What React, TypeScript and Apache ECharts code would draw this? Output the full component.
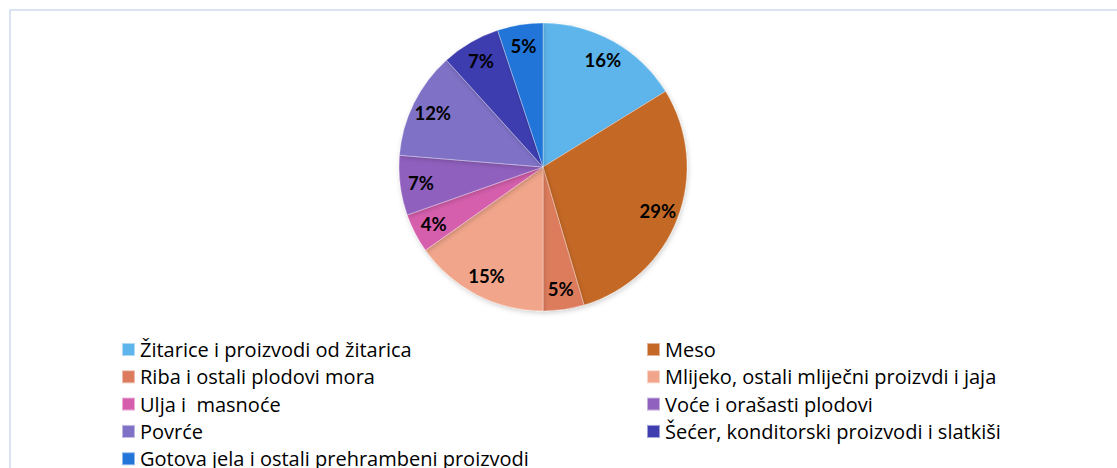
import React, { useEffect, useRef } from "react";
import * as echarts from "echarts";

const categories = [
  "Žitarice i proizvodi od žitarica",
  "Meso",
  "Riba i ostali plodovi mora",
  "Mlijeko, ostali mliječni proizvdi i jaja",
  "Ulja i  masnoće",
  "Voće i orašasti plodovi",
  "Povrće",
  "Šećer, konditorski proizvodi i slatkiši",
  "Gotova jela i ostali prehrambeni proizvodi",
];
const values = [16.2, 29.2, 4.6, 15.2, 4.4, 6.7, 12.0, 6.6, 5.1];
const colors = [
  "#5DB5EC",
  "#C46826",
  "#DC7B5D",
  "#F1A68B",
  "#D65FAD",
  "#9061BE",
  "#7F71C6",
  "#3E3EB0",
  "#2275D8",
];
const leftLegend = [categories[0], categories[2], categories[4], categories[6], categories[8]];
const rightLegend = [categories[1], categories[3], categories[5], categories[7]];

export default function App() {
  const ref = useRef<HTMLDivElement>(null);
  useEffect(() => {
    const chart = echarts.init(ref.current!, null, { renderer: "svg" });
    const data = categories.map((name, i) => ({
      name,
      value: values[i],
      itemStyle: { color: colors[i] },
    }));
    const legendCommon = {
      orient: "vertical" as const,
      itemWidth: 13,
      itemHeight: 13,
      itemGap: 7.3,
      padding: 0,
      height: 300,
      icon: "rect",
      selectedMode: false,
      textStyle: {
        fontFamily: "Open Sans",
        fontSize: 20,
        color: "#000",
        lineHeight: 20,
      },
    };
    chart.setOption({
      animation: false,
      backgroundColor: "#fff",
      graphic: [
        {
          type: "rect",
          z: -10,
          shape: { x: 10, y: 10, width: 1200, height: 600 },
          style: { fill: "none", stroke: "#DAE3F3", lineWidth: 2 },
        },
      ],
      legend: [
        { ...legendCommon, left: 121, top: 339.5, data: leftLegend },
        { ...legendCommon, left: 646, top: 339.5, data: rightLegend },
      ],
      series: [
        {
          type: "pie",
          center: [543, 167],
          radius: [0, 144],
          startAngle: 90,
          clockwise: true,
          silent: true,
          label: { show: false },
          labelLine: { show: false },
          itemStyle: {
            borderColor: "rgba(255,255,255,0.5)",
            borderWidth: 0.6,
            shadowBlur: 5,
            shadowOffsetX: 1,
            shadowOffsetY: 2,
            shadowColor: "rgba(0,0,0,0.18)",
          },
          data,
        },
        {
          type: "pie",
          center: [543, 167],
          radius: [96, 144],
          startAngle: 90,
          clockwise: true,
          silent: true,
          legendHoverLink: false,
          z: 3,
          label: {
            show: true,
            position: "inside",
            fontFamily: "Lato",
            fontWeight: "bold",
            fontSize: 18.5,
            color: "#000",
            formatter: (p: any) => Math.round(p.percent) + "%",
          },
          labelLine: { show: false },
          itemStyle: { color: "rgba(0,0,0,0)" },
          data: categories.map((name, i) => ({ name, value: values[i] })),
        },
      ],
    });
    return () => chart.dispose();
  }, []);
  return (
    <div
      ref={ref}
      style={{ position: "absolute", left: 0, top: 0, width: 1117, height: 468 }}
    />
  );
}
